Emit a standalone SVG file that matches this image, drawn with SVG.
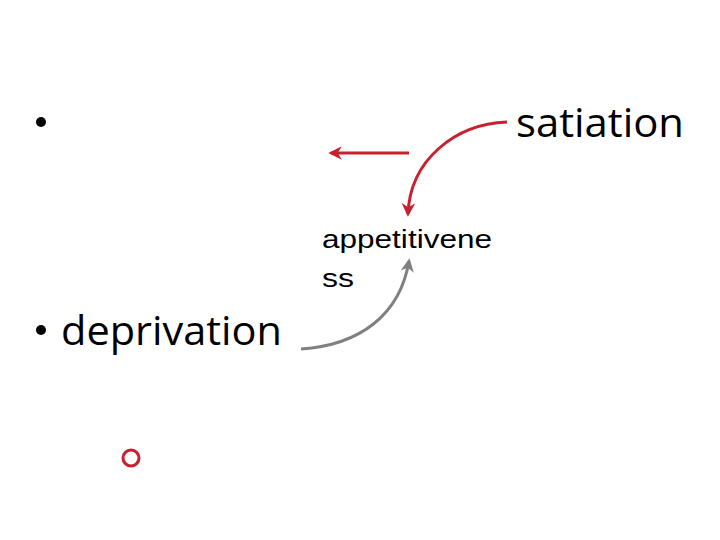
<svg xmlns="http://www.w3.org/2000/svg" width="720" height="540" viewBox="0 0 720 540">
<style>
.big{font-family:"Open Sans","Liberation Sans",sans-serif;font-size:40px;fill:#000}
.sm{font-family:"Liberation Sans",Arial,sans-serif;font-size:26px;fill:#000}
.red{fill:none;stroke:#C8202F;stroke-width:3}
.gray{fill:none;stroke:#808080;stroke-width:3}
</style>
<defs>
<marker id="ar" viewBox="0 0 10 10" refX="8" refY="5" markerWidth="4.5" markerHeight="4.5" orient="auto" markerUnits="strokeWidth"><path d="M0,0 L10,5 L0,10 L3,5 Z" fill="#C8202F"/></marker>
<marker id="ag" viewBox="0 0 10 10" refX="8" refY="5" markerWidth="4.5" markerHeight="4.5" orient="auto" markerUnits="strokeWidth"><path d="M0,0 L10,5 L0,10 L3,5 Z" fill="#808080"/></marker>
</defs>
<rect width="720" height="540" fill="#fff"/>
<g id="bullet1"><circle cx="41" cy="122" r="5" fill="#000"/></g>
<g id="satiation"><text class="big" x="516" y="137" textLength="168" lengthAdjust="spacingAndGlyphs">satiation</text></g>
<g id="appetitiveness"><text class="sm" x="322" y="248" textLength="170" lengthAdjust="spacingAndGlyphs">appetitivene</text><text class="sm" x="322" y="287" textLength="32" lengthAdjust="spacingAndGlyphs">ss</text></g>
<g id="deprivation"><circle cx="41" cy="330" r="5" fill="#000"/><text class="big" x="61" y="345" textLength="221" lengthAdjust="spacingAndGlyphs">deprivation</text></g>
<g id="circle"><circle cx="131" cy="458" r="8" fill="none" stroke="#C8202F" stroke-width="3"/></g>
<g id="connectors">
<path class="red" d="M409,153 L331,153" marker-end="url(#ar)"/>
<path class="red" d="M507,122 C455,124 410,160 408,214" marker-end="url(#ar)"/>
<path class="gray" d="M301,349 C360,345 400,315 409,261" marker-end="url(#ag)"/>
</g>
</svg>
